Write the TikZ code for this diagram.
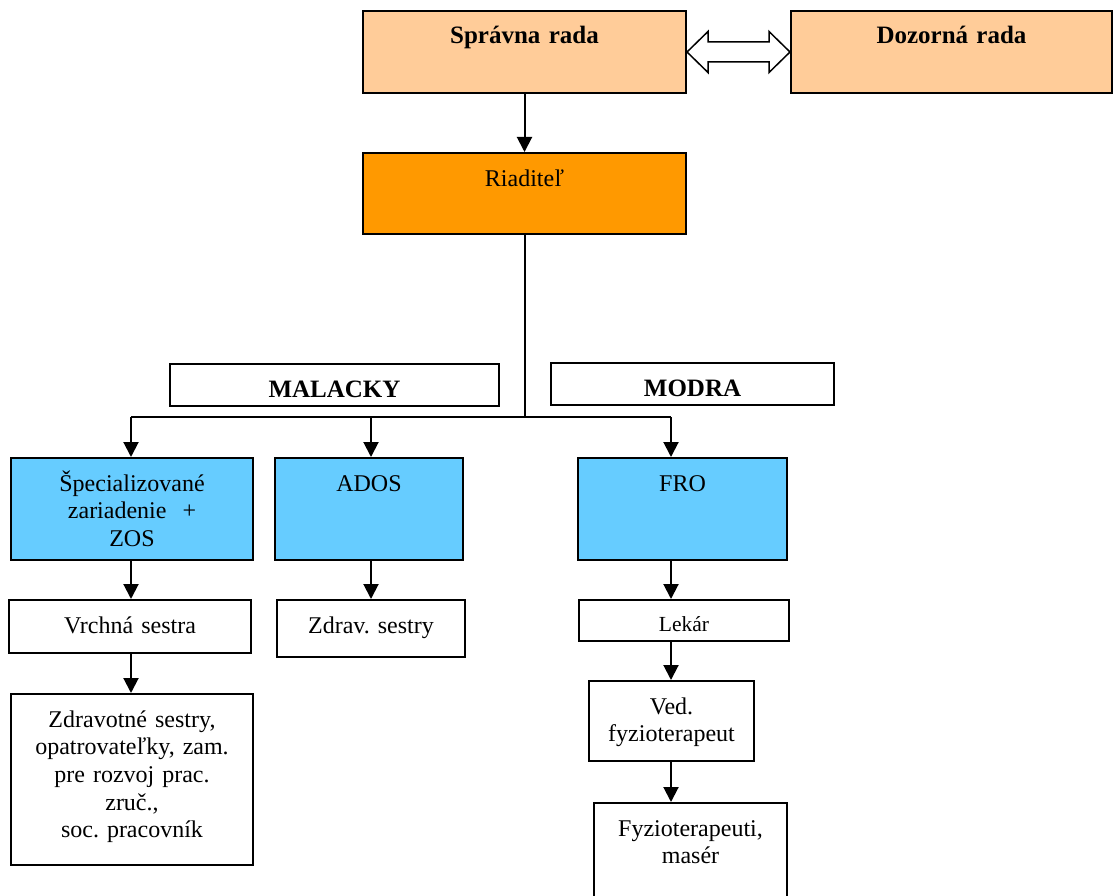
\documentclass[tikz,border=0pt]{standalone}
\usepackage{fontspec}
\setmainfont{Liberation Serif}
\usepackage{tikz}
\usetikzlibrary{arrows.meta, calc}
\definecolor{peach}{RGB}{255,204,153}
\definecolor{boss}{RGB}{255,153,0}
\definecolor{unit}{RGB}{102,204,255}
\frenchspacing
\tikzset{
	box/.style 2 args={
		draw,
		line width=2pt,
		anchor=north west,
		inner sep=0pt,
		align=center,
		text width=#1,
		text height=33pt,
		text depth=#2,
		font=\fontsize{24}{27.7}\selectfont
	},
	head/.style={font=\fontsize{25}{29}\selectfont\bfseries}
}

\begin{document}
\begin{tikzpicture}[x=1pt, y=-1pt]
	\tikzset{edge/.style={-{Triangle[length=15pt,width=15pt]}, line width=2pt}}
	\tikzset{line/.style={line width=2pt}}
	\useasboundingbox (0,0) rectangle (1113,896);
	
	\node(sprava) at (362,10) [box={323pt}{49pt},head,fill=peach] {Správna rada};
	\node(dozor) at (790,10) [box={321pt}{49pt},head,fill=peach] {Dozorná rada};
	
	\node(riad) at (362,152) [box={323pt}{48pt},fill=boss] {Riaditeľ};
	
	\node(malacky) at (169,363) [box={329pt}{9pt},head] {MALACKY};
	\node(modra) at (550,362) [box={283pt}{9pt},head] {MODRA};
	
	\node(spec) at (10,457) [box={242pt}{69pt},fill=unit] {Špecializované\\zariadenie~~+\\ZOS};
	\node(ados) at (274,457) [box={188pt}{69pt},fill=unit] {ADOS};
	\node(fro) at (577,457) [box={209pt}{69pt},fill=unit] {FRO};
	
	\node(vrchna) at (8,599) [box={242pt}{20pt}] {Vrchná sestra};
	\node(zdravs) at (276,599) [box={188pt}{24pt}] {Zdrav. sestry};
	\node(lekar) at (578,599) [box={210pt}{10pt},text height=31pt,font=\fontsize{21.5}{25}\selectfont] {Lekár};
	
	\node(zdravotne) at (10,693) [box={242pt}{138pt}] {Zdravotné sestry,\\opatrovateľky, zam.\\pre rozvoj prac.\\zruč.,\\soc. pracovník};
	\node(ved) at (588,680) [box={165pt}{47pt}] {Ved.\\fyzioterapeut};
	\node(fyzio) at (593,802) [box={193pt}{87pt}] {Fyzioterapeuti,\\masér};
	
	\coordinate(c1) at (131,417);
	\coordinate(c2) at (371,417);
	\coordinate(c3) at (671,417);
	
	% hollow double arrow between the boards
	\draw[line width=1.5pt, fill=white] (sprava.east) -- ++(21,-20.5) -- ++(0,10.5)
		-- ($(dozor.west)+(-21,-10)$) -- ++(0,-10.5) -- (dozor.west)
		-- ++(-21,20.5) -- ++(0,-10.5) -- ($(sprava.east)+(21,10)$) -- ++(0,10.5) -- cycle;
	
	\draw[edge] (sprava) -- (riad);
	
	\draw[line] (riad.south) -- (riad.south |- c1);
	\draw[line] (c1) -- (c3);
	
	\draw[edge] (c1) -- (spec.north -| c1);
	\draw[edge] (c2) -- (ados.north -| c2);
	\draw[edge] (c3) -- (fro.north -| c3);
	
	\draw[edge] (spec.south -| c1) -- (vrchna.north -| c1);
	\draw[edge] (vrchna.south -| c1) -- (zdravotne.north -| c1);
	
	\draw[edge] (ados.south -| c2) -- (zdravs.north -| c2);
	
	\draw[edge] (fro.south -| c3) -- (lekar.north -| c3);
	\draw[edge] (lekar.south -| c3) -- (ved.north -| c3);
	\draw[edge] (ved.south -| c3) -- (fyzio.north -| c3);
	
\end{tikzpicture}
\end{document}
